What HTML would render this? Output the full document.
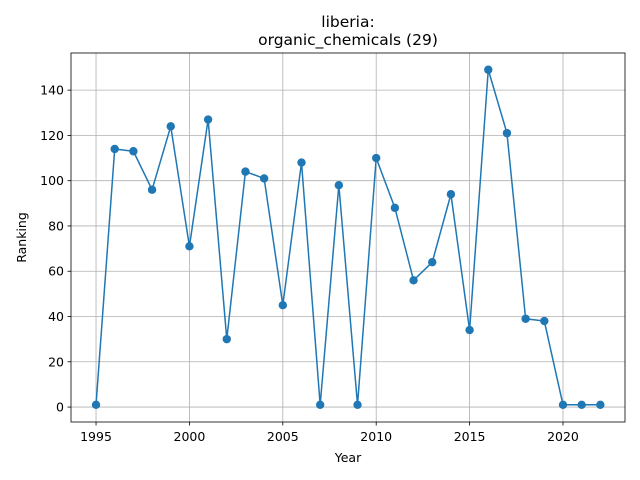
<!DOCTYPE html>
<html><head><meta charset="utf-8"><style>
html,body{margin:0;padding:0;background:#fff;}
svg{display:block;font-family:"DejaVu Sans","Liberation Sans",sans-serif;}
</style></head><body>
<svg id="chart" width="640" height="480" viewBox="0 0 640 480" xmlns="http://www.w3.org/2000/svg">
<rect x="0" y="0" width="640" height="480" fill="#fff"/>
<g id="grid"></g>
<g id="ticks"></g>
<g id="series"></g>
<rect x="71" y="53" width="554" height="369" fill="none" stroke="#000" stroke-width="0.8"/>
<text x="348" y="27" text-anchor="middle" font-size="15.5">liberia:</text>
<text x="348" y="45" text-anchor="middle" font-size="15.5">organic_chemicals (29)</text>
<text x="348" y="462" text-anchor="middle" font-size="12.5">Year</text>
<text transform="translate(26,237.5) rotate(-90)" text-anchor="middle" font-size="12.5">Ranking</text>
</svg>
<script>
const years = [1995,1996,1997,1998,1999,2000,2001,2002,2003,2004,2005,2006,2007,2008,2009,2010,2011,2012,2013,2014,2015,2016,2017,2018,2019,2020,2021,2022];
const rankings = [1,114,113,96,124,71,127,30,104,101,45,108,1,98,1,110,88,56,64,94,34,149,121,39,38,1,1,1];
const xTicks = [1995,2000,2005,2010,2015,2020];
const yTicks = [0,20,40,60,80,100,120,140];

const L=71,R=625,T=53,B=422;
const xMin=1993.66,xMax=2023.32,yMin=-6.6,yMax=156.4;
const sx=v=>L+(v-xMin)/(xMax-xMin)*(R-L);
const sy=v=>B-(v-yMin)/(yMax-yMin)*(B-T);
const NS="http://www.w3.org/2000/svg";
function mk(tag,attrs,parent,text){const e=document.createElementNS(NS,tag);for(const k in attrs)e.setAttribute(k,attrs[k]);if(text!==undefined)e.textContent=text;parent.appendChild(e);return e;}
const grid=document.getElementById('grid'),ticks=document.getElementById('ticks'),series=document.getElementById('series');
xTicks.forEach(t=>{
  const x=sx(t);
  const g=mk('line',{x1:x,x2:x,y1:T,y2:B,stroke:'#b0b0b0','stroke-width':0.8},grid);
  
  
  mk('line',{x1:x,x2:x,y1:B,y2:B+3.5,stroke:'#000','stroke-width':0.8},ticks);
  const l=mk('text',{x:x,y:B+19,'text-anchor':'middle','font-size':12.5},ticks,String(t));
  
  
});
yTicks.forEach(t=>{
  const y=sy(t);
  const g=mk('line',{x1:L,x2:R,y1:y,y2:y,stroke:'#b0b0b0','stroke-width':0.8},grid);
  
  
  mk('line',{x1:L-3.5,x2:L,y1:y,y2:y,stroke:'#000','stroke-width':0.8},ticks);
  const l=mk('text',{x:L-7,y:y+4.5,'text-anchor':'end','font-size':12.5},ticks,String(t));
  
  
});
const pts=years.map((y,i)=>sx(y)+','+sy(rankings[i])).join(' ');
const line=mk('polyline',{points:pts,fill:'none',stroke:'#1f77b4','stroke-width':1.5},series);


years.forEach((y,i)=>{
  const c=mk('circle',{cx:sx(y),cy:sy(rankings[i]),r:4.2,fill:'#1f77b4'},series);
  
  
});
</script>
</body></html>
